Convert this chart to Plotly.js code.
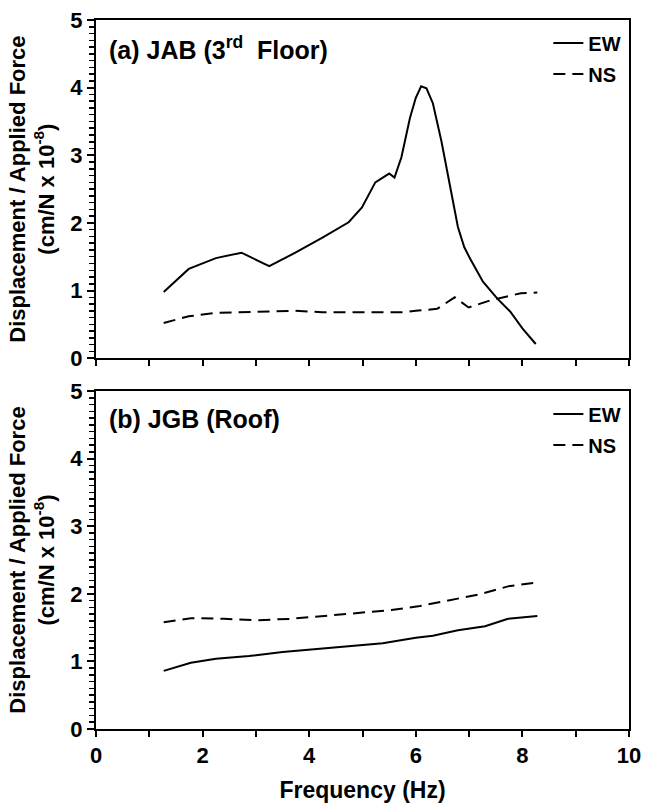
<!DOCTYPE html>
<html>
<head>
<meta charset="utf-8">
<script src="https://cdn.plot.ly/plotly-3.0.1.min.js"></script>
<style>html,body{margin:0;padding:0;background:#fff;}#chart{width:654px;height:809px;}</style>
</head>
<body>
<div id="chart"></div>
<script>
// Panel (a) JAB (3rd Floor)
const jabEwFreq = [1.27, 1.74, 2.25, 2.73, 3.25, 3.74, 4.24, 4.74, 4.99, 5.24, 5.5, 5.6, 5.73, 5.89, 6.0, 6.1, 6.2, 6.32, 6.48, 6.63, 6.79, 6.91, 7.02, 7.26, 7.53, 7.77, 8.0, 8.25];
const jabEwVal  = [0.98, 1.32, 1.48, 1.56, 1.36, 1.56, 1.78, 2.01, 2.23, 2.60, 2.73, 2.67, 2.97, 3.55, 3.85, 4.02, 3.99, 3.77, 3.21, 2.62, 1.94, 1.64, 1.47, 1.13, 0.88, 0.69, 0.44, 0.21];
const jabNsFreq = [1.27, 1.74, 2.25, 2.75, 3.27, 3.74, 4.24, 4.74, 5.22, 5.74, 6.0, 6.4, 6.73, 6.99, 7.42, 7.97, 8.28];
const jabNsVal  = [0.52, 0.62, 0.67, 0.68, 0.69, 0.70, 0.68, 0.68, 0.68, 0.68, 0.70, 0.73, 0.90, 0.75, 0.86, 0.96, 0.97];
// Panel (b) JGB (Roof)
const jgbEwFreq = [1.27, 1.78, 2.25, 2.87, 3.5, 4.13, 4.75, 5.38, 6.0, 6.32, 6.79, 7.3, 7.73, 8.28];
const jgbEwVal  = [0.86, 0.98, 1.04, 1.08, 1.14, 1.18, 1.22, 1.27, 1.35, 1.38, 1.46, 1.52, 1.63, 1.67];
const jgbNsFreq = [1.27, 1.78, 2.4, 3.03, 3.66, 4.28, 4.91, 5.54, 6.08, 6.63, 7.18, 7.73, 8.28];
const jgbNsVal  = [1.58, 1.64, 1.63, 1.61, 1.63, 1.67, 1.72, 1.76, 1.82, 1.91, 1.99, 2.11, 2.17];

const panelLabels = ['(a) JAB (3<sup>rd</sup>  Floor)', '(b) JGB (Roof)'];
const seriesNames = ['EW', 'NS'];
const xTickVals = [0, 2, 4, 6, 8, 10];
const yTickVals = [0, 1, 2, 3, 4, 5];

const FONT = 'Liberation Sans, Arial, Helvetica, sans-serif';
const solid = {color: '#000', width: 2, dash: 'solid'};
const dashed = {color: '#000', width: 2, dash: '12px,7px'};

const traces = [
  {x: jabEwFreq, y: jabEwVal, name: seriesNames[0], mode: 'lines', line: solid, xaxis: 'x', yaxis: 'y', legend: 'legend', legendgroup: 'a1'},
  {x: jabNsFreq, y: jabNsVal, name: seriesNames[1], mode: 'lines', line: dashed, xaxis: 'x', yaxis: 'y', legend: 'legend', legendgroup: 'a2'},
  {x: jgbEwFreq, y: jgbEwVal, name: seriesNames[0], mode: 'lines', line: solid, xaxis: 'x2', yaxis: 'y2', legend: 'legend2', legendgroup: 'b1'},
  {x: jgbNsFreq, y: jgbNsVal, name: seriesNames[1], mode: 'lines', line: dashed, xaxis: 'x2', yaxis: 'y2', legend: 'legend2', legendgroup: 'b2'}
];

const yTitle = 'Displacement / Applied Force<br>(cm/N x 10<sup>-8</sup>)';

function xAxis(showLabels, anchor) {
  return {
    range: [0, 10], anchor: anchor, tickvals: xTickVals, ticktext: xTickVals.map(String),
    showticklabels: showLabels, ticks: 'outside', ticklen: 6, tickwidth: 2, tickcolor: '#000',
    minor: {dtick: 1, ticks: 'outside', ticklen: 6, tickwidth: 2, tickcolor: '#000', showgrid: false},
    showline: true, linewidth: 2, linecolor: '#000', mirror: true, showgrid: false, zeroline: false,
    tickfont: {family: FONT, size: 22, color: '#000', weight: 700}
  };
}
function yAxis(domain, anchor) {
  return {
    range: [0, 5], domain: domain, anchor: anchor, tickvals: yTickVals, ticktext: yTickVals.map(String),
    ticks: 'outside', ticklen: 7, tickwidth: 2, tickcolor: '#000',
    minor: {dtick: 0.1, ticks: 'outside', ticklen: 5, tickwidth: 1.5, tickcolor: '#000', showgrid: false},
    showline: true, linewidth: 2, linecolor: '#000', mirror: true, showgrid: false, zeroline: false,
    tickfont: {family: FONT, size: 22, color: '#000', weight: 700},
    title: {text: yTitle, font: {family: FONT, size: 22, color: '#000', weight: 700}, standoff: 10}
  };
}

const legendBase = {
  xanchor: 'right', yanchor: 'top', bgcolor: 'rgba(0,0,0,0)', borderwidth: 0,
  font: {family: FONT, size: 20, color: '#000', weight: 700}, tracegroupgap: 2, itemwidth: 30
};

const layout = {
  width: 654, height: 809,
  margin: {l: 96, r: 25, t: 20, b: 80},
  paper_bgcolor: '#fff', plot_bgcolor: '#fff',
  showlegend: true,
  xaxis: xAxis(false, 'y'),
  yaxis: yAxis([0.523, 1], 'x'),
  xaxis2: Object.assign(xAxis(true, 'y2'), {
    title: {text: 'Frequency (Hz)', font: {family: FONT, size: 23, color: '#000', weight: 700}, standoff: 14}
  }),
  yaxis2: yAxis([0, 0.4767], 'x2'),
  legend: Object.assign({}, legendBase, {x: 0.995, y: 0.995}),
  legend2: Object.assign({}, legendBase, {x: 0.995, y: 0.4717}),
  annotations: [
    {text: panelLabels[0], xref: 'x domain', yref: 'y domain', x: 0.02, y: 0.917, xanchor: 'left', yanchor: 'middle', showarrow: false,
     font: {family: FONT, size: 25, color: '#000', weight: 700}},
    {text: panelLabels[1], xref: 'x2 domain', yref: 'y2 domain', x: 0.02, y: 0.917, xanchor: 'left', yanchor: 'middle', showarrow: false,
     font: {family: FONT, size: 25, color: '#000', weight: 700}}
  ]
};

Plotly.newPlot('chart', traces, layout, {displayModeBar: false, staticPlot: true});
</script>
</body>
</html>
